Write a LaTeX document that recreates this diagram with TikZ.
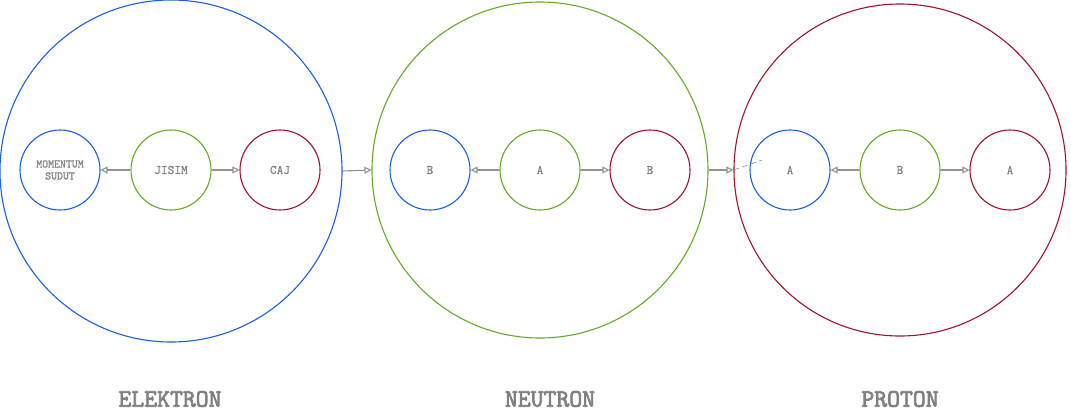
\documentclass[tikz,border=0pt]{standalone}
\usepackage{fontspec}
\setmonofont{Latin Modern Mono}
\newfontfamily\titlefont{Latin Modern Mono}[FakeBold=3]
\newfontfamily\labelfont{Latin Modern Mono}[FakeBold=0.6]
\usetikzlibrary{arrows.meta}
\definecolor{eblue}{HTML}{1A5FE8}
\definecolor{ngreen}{HTML}{67AB23}
\definecolor{pred}{HTML}{A5102E}
\definecolor{tgrey}{HTML}{808080}
\tikzset{
  big/.style={circle,draw,line width=1.1pt,inner sep=0pt},
  small/.style={circle,draw,line width=1.1pt,minimum size=80pt,inner sep=0pt,font=\labelfont\fontsize{13}{13}\selectfont,text=tgrey,align=center},
  conn/.style={draw=tgrey!85,line width=1.1pt,-{Triangle[open,length=7pt,width=7pt]}},
  title/.style={font=\titlefont\fontsize{25}{25}\selectfont,text=tgrey}
}
\begin{document}
\begin{tikzpicture}[x=1pt,y=-1pt]
\useasboundingbox (0,0) rectangle (1071,415);
\node[big,draw=eblue,minimum size=342pt] (E) at (171,171) {};
\node[big,draw=ngreen,minimum size=336pt] (N) at (540,170) {};
\node[big,draw=pred,minimum size=332pt] (P) at (900,170) {};

\node[small,draw=eblue,font=\labelfont\fontsize{11.5}{12}\selectfont] (e1) at (60,170) {MOMENTUM\\SUDUT};
\node[small,draw=ngreen] (e2) at (171,170) {JISIM};
\node[small,draw=pred] (e3) at (280,170) {CAJ};

\node[small,draw=eblue] (n1) at (430,170) {B};
\node[small,draw=ngreen] (n2) at (540,170) {A};
\node[small,draw=pred] (n3) at (650,170) {B};

\node[small,draw=eblue] (p1) at (790,170) {A};
\node[small,draw=ngreen] (p2) at (900,170) {B};
\node[small,draw=pred] (p3) at (1010,170) {A};

\draw[conn] (e2) -- (e1);
\draw[conn] (e2) -- (e3);
\draw[conn] (n2) -- (n1);
\draw[conn] (n2) -- (n3);
\draw[conn] (p2) -- (p1);
\draw[conn] (p2) -- (p3);
\draw[conn] (E.east) -- (N.west);
\draw[conn] (N.east) -- (P.west);
\coordinate (pd) at (762,160);
\draw[tgrey,line width=0.5pt,dash pattern=on 6pt off 3pt] (P.west) -- (pd);

\node[title] (te) at (170,399) {ELEKTRON};
\node[title] (tn) at (550,399) {NEUTRON};
\node[title] (tp) at (900,399) {PROTON};
\end{tikzpicture}
\end{document}
